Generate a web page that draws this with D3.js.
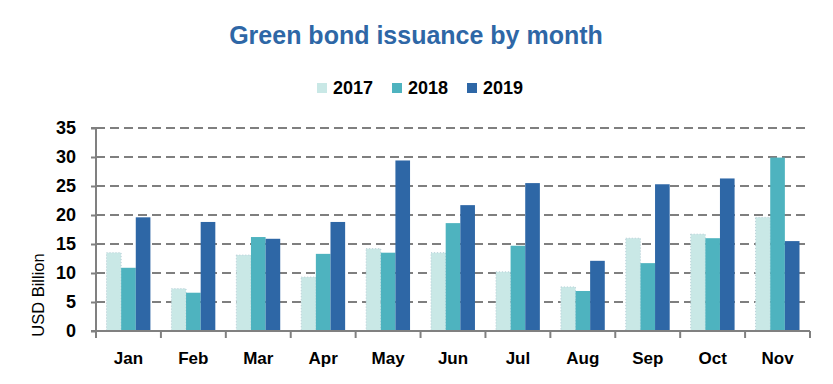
<!DOCTYPE html>
<html><head><meta charset="utf-8">
<script src="https://cdn.jsdelivr.net/npm/d3@7"></script>
<style>body{margin:0;background:#fff;} svg{display:block;font-family:"Liberation Sans",Arial,sans-serif;}</style>
</head><body>
<svg id="chart" width="833" height="384"></svg>
<script>
const months = ["Jan","Feb","Mar","Apr","May","Jun","Jul","Aug","Sep","Oct","Nov"];
const seriesNames = ["2017","2018","2019"];
const v2017 = [13.5, 7.3, 13.1, 9.3, 14.2, 13.5, 10.2, 7.6, 16.0, 16.7, 19.6];
const v2018 = [10.9, 6.6, 16.2, 13.3, 13.5, 18.6, 14.7, 6.9, 11.7, 16.0, 29.9];
const v2019 = [19.6, 18.8, 15.9, 18.8, 29.4, 21.7, 25.5, 12.1, 25.3, 26.3, 15.5];
const yTicks = [0,5,10,15,20,25,30,35];
const colors = ["#C9E8E6","#4EB3BF","#2E67A6"];

const svg = d3.select("#chart");
const m = {left:96, right:23, top:128, bottom:53};
const W = 833, H = 384;
const x = d3.scaleBand().domain(months).range([m.left, W - m.right]).paddingInner(0).paddingOuter(0);
const y = d3.scaleLinear().domain([0,35]).range([H - m.bottom, m.top]);
const xs = d3.scaleBand().domain(seriesNames).range([10.5, x.bandwidth()-10.5]);

// title
svg.append("text").attr("x", 416).attr("y", 44).attr("text-anchor","middle")
  .attr("font-size", 25).attr("font-weight","bold").attr("fill","#2E67A6")
  .text("Green bond issuance by month");

// legend
const lg = svg.append("g");
const legX = [317, 392, 467];
seriesNames.forEach((s,i)=>{
  lg.append("rect").attr("x", legX[i]).attr("y", 83).attr("width",10).attr("height",10).attr("fill", colors[i]);
  lg.append("text").attr("x", legX[i]+16).attr("y", 94).attr("font-size",18).attr("font-weight","bold").attr("fill","#000").text(s);
});

// gridlines
svg.append("g").selectAll("line").data(yTicks.filter(d=>d>0)).join("line")
  .attr("x1", m.left).attr("x2", 805).attr("y1", d=>y(d)).attr("y2", d=>y(d))
  .attr("stroke","#7f7f7f").attr("stroke-width",2).attr("stroke-dasharray","9,5");

// bars
const data = months.map((mo,i)=>({month:mo, vals:[v2017[i], v2018[i], v2019[i]]}));
const g = svg.append("g");
data.forEach(d=>{
  d.vals.forEach((v,j)=>{
    const r = g.append("rect").attr("x", x(d.month)+xs(seriesNames[j])).attr("width", xs.bandwidth())
      .attr("y", y(v)).attr("height", y(0)-y(v)).attr("fill", colors[j]);
    if (j===0) r.attr("stroke","#b7cdd6").attr("stroke-width",1).attr("stroke-dasharray","1,2");
  });
});

// y axis
const yAxis = d3.axisLeft(y).tickValues(yTicks).tickSize(5).tickPadding(15);
const ya = svg.append("g").attr("transform",`translate(${m.left},0)`).call(yAxis);
ya.select(".domain").attr("stroke","#808080").attr("stroke-width",2).attr("d", `M-5,${y(35)}H0V${y(0)}H-5`);
ya.selectAll(".tick line").attr("stroke","#808080").attr("stroke-width",2);
ya.selectAll(".tick text").attr("font-size",18).attr("font-weight","bold").attr("fill","#000")
  .attr("font-family","'Liberation Sans',Arial,sans-serif");

// x axis
const xa = svg.append("g").attr("transform",`translate(0,${y(0)})`);
xa.append("line").attr("x1", m.left).attr("x2", W-m.right).attr("y1",0).attr("y2",0).attr("stroke","#808080").attr("stroke-width",2);
const bounds = months.map(mo=>x(mo)).concat([x(months[months.length-1])+x.bandwidth()]);
xa.selectAll("line.tk").data(bounds).join("line").attr("class","tk")
  .attr("x1",d=>d).attr("x2",d=>d).attr("y1",0).attr("y2",7).attr("stroke","#808080").attr("stroke-width",2);
xa.selectAll("text").data(months).join("text")
  .attr("x", d=>x(d)+x.bandwidth()/2).attr("y", 33).attr("text-anchor","middle")
  .attr("font-size",17).attr("font-weight","bold").attr("fill","#000").text(d=>d);

// y title
svg.append("text").attr("transform","translate(44,295) rotate(-90)").attr("text-anchor","middle")
  .attr("font-size",16.5).attr("fill","#000").text("USD Billion");
</script>
</body></html>
